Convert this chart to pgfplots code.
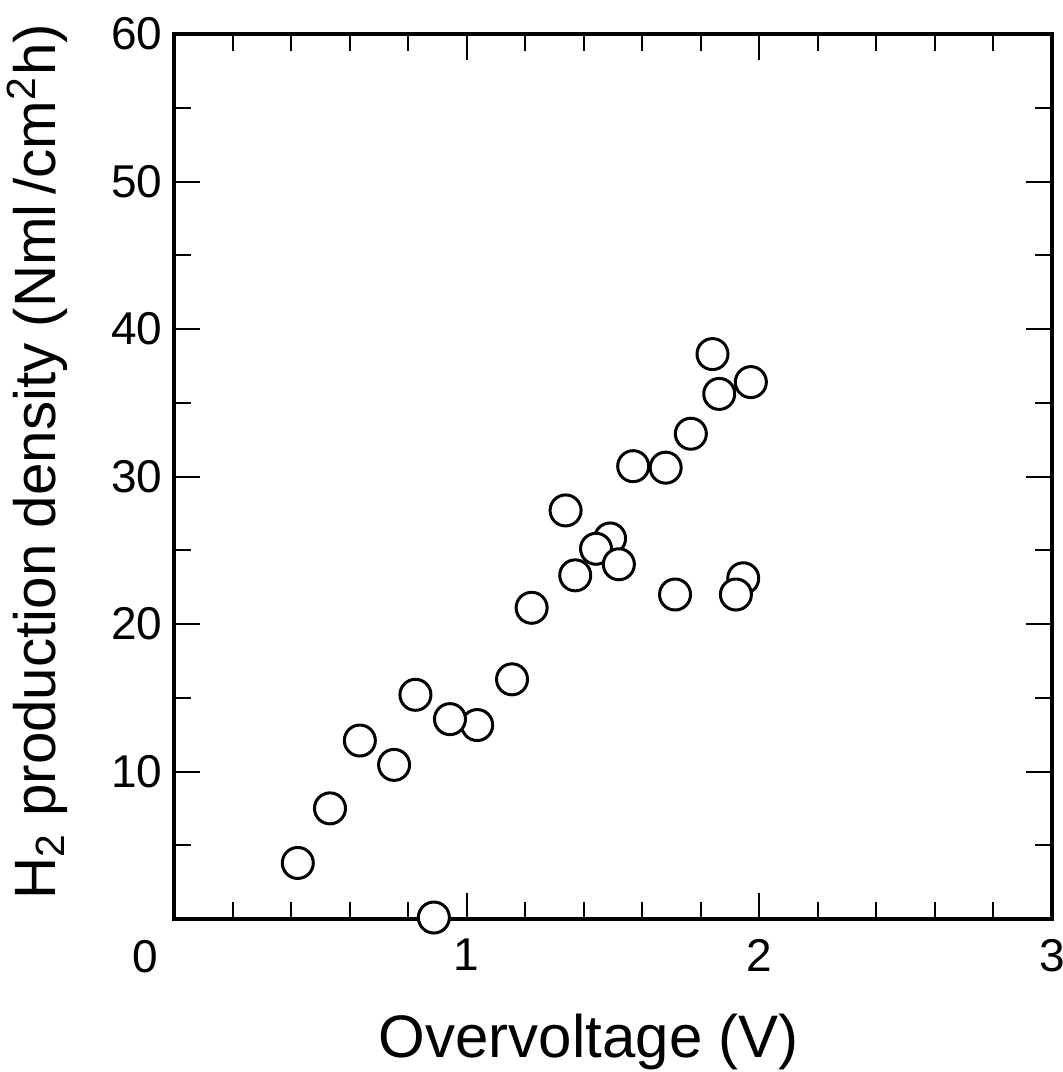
\documentclass[border=0pt]{standalone}
\usepackage{fontspec}
\setmainfont{Liberation Sans}
\usepackage{pgfplots}
\pgfplotsset{compat=1.18}

\pgfplotstableread{
x      y
0.423  3.8
0.533  7.5
0.635  12.1
0.752  10.45
0.825  15.2
0.888  0.1
1.036  13.15
0.943  13.55
1.155  16.25
1.222  21.1
1.338  27.7
1.371  23.3
1.490  25.8
1.442  25.1
1.520  24.05
1.680  30.6
1.569  30.7
1.712  22.0
1.766  32.9
1.840  38.3
1.971  36.4
1.863  35.6
1.945  23.1
1.920  22.0
}\hydrogen

\begin{document}
\begin{tikzpicture}
\path[use as bounding box] (-52.2pt,-45.9pt) rectangle (266.7pt,275.7pt);
\begin{axis}[
  scale only axis,
  width=263.4pt, height=265.5pt,
  xmin=0, xmax=3, ymin=0, ymax=60,
  xtick={0,1,2,3}, xticklabels={,1,2,3},
  ytick={0,10,...,60}, yticklabels={,10,20,30,40,50,60},
  minor x tick num=4, minor y tick num=1,
  tick align=inside, tick pos=both,
  major tick length=7.8pt, minor tick length=5pt,
  axis line style={line width=1.2pt},
  tick style={black, line width=0.6pt},
  tick label style={font=\fontsize{13.8}{15}\selectfont},
  /pgf/number format/assume math mode=true,
  xticklabel style={yshift=-2.5pt},
  clip=false,
]
\addplot[only marks, mark=*, mark size=4.65pt,
  mark options={fill=white, draw=black, line width=0.9pt}] table {\hydrogen};

\node[font=\fontsize{13.8}{15}\selectfont] at (axis cs:0,0) [xshift=-8.7pt, yshift=-11.4pt] {0};
\node[anchor=base, font=\fontsize{18}{22}\selectfont] at (axis cs:1.418,0) [yshift=-41.6pt] {Overvoltage (V)};
\node[xshift=-35.4pt, rotate=90, anchor=base, font=\fontsize{17.5}{20}\selectfont] at (axis cs:0,31.0)
  {H\textsubscript{2} production density (Nml\,/cm\textsuperscript{2}h)};
\end{axis}
\end{tikzpicture}
\end{document}
